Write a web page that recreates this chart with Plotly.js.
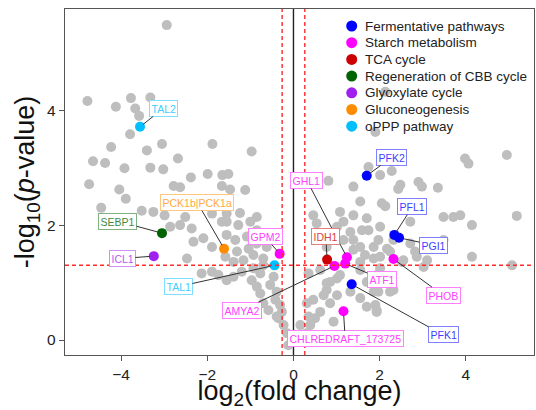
<!DOCTYPE html>
<html><head><meta charset="utf-8">
<script src="https://cdn.plot.ly/plotly-3.0.1.min.js"></script>
<style>html,body{margin:0;padding:0;background:#fff}#chart{width:536px;height:410px}</style>
</head><body><div id="chart"></div>
<script>
// Background (non-highlighted) proteins: log2 fold change, -log10 p
const grayX = [-2.94,-4.78,-3.77,-3.32,-4.12,-3.67,-3.58,-3.79,-4.23,-3.05,-1.88,-0.97,-3.40,-2.68,-4.65,-4.37,-3.92,-3.32,-3.02,-2.38,-1.99,-1.65,-4.74,-2.78,-2.63,-4.04,-3.89,-4.46,-3.52,-3.25,-2.99,-1.66,-1.89,-2.51,-1.51,-1.47,-1.12,-1.51,-1.55,-1.24,-0.85,
 2.13,1.90,0.81,1.39,1.55,1.39,1.74,2.01,2.28,2.48,2.43,2.90,2.98,3.35,3.98,4.06,4.95,5.18,1.08,1.70,2.05,1.74,2.01,2.71,3.48,3.87,4.14,3.48,1.39,1.55,1.86,2.17,2.32,1.86,2.86,3.10,2.13,3.71,1.97,2.71,2.82,2.55,4.14,5.07,2.01,1.97,2.24,1.90,1.93,
 -2.86,-2.63,-2.36,-2.32,-2.09,-1.89,-2.47,-2.13,-1.89,-1.74,-1.66,
 -1.55,-1.28,-1.00,-0.85,-1.55,-1.35,-1.08,-0.77,-1.58,-1.31,-1.04,-0.85,-0.62,-1.39,-1.16,-0.93,-0.70,-0.93,-0.70,-0.77,-0.46,-0.54,-0.39,-0.42,-0.31,-0.27,-0.35,-0.23,-0.15,-0.12,-1.55,-0.97,-0.85,-0.77,-0.70,-0.58,-0.39,-1.20,-1.39,
 0.35,0.62,0.85,0.77,1.01,0.85,0.62,0.50,0.39,0.31,0.27,0.93,1.32,1.55,1.70,1.93,1.70,1.55,1.08,0.46,0.54,1.01,1.16,1.32,1.59,1.16,0.77,1.39,1.66,2.01,2.24,1.55,2.52,0.31,0.46,0.77,1.01,1.82,1.86,1.93,2.32,3.02,0.16,0.35,0.70];
const grayY = [5.48,4.16,4.21,4.22,4.06,4.03,3.90,3.58,3.36,3.41,3.41,3.28,3.30,3.16,3.11,3.08,2.99,3.00,2.97,2.83,2.89,2.87,2.71,2.68,2.66,2.62,2.46,2.30,2.25,2.23,2.17,2.68,2.20,2.14,2.89,2.62,2.61,2.43,2.20,2.21,2.14,
 4.32,3.62,2.77,2.67,2.41,2.17,3.01,2.87,2.94,2.70,2.63,2.75,2.67,2.65,3.16,3.07,3.22,2.16,2.23,2.12,2.38,1.91,1.97,2.06,2.14,2.17,2.00,1.74,1.74,1.62,1.62,1.59,1.74,1.42,1.45,1.39,2.33,2.14,1.74,1.68,1.54,1.39,1.45,1.30,1.25,0.84,0.84,0.61,0.49,
 1.97,2.00,1.94,1.71,1.77,1.62,1.42,1.16,1.19,1.13,2.06,
 2.06,2.00,2.06,1.91,1.83,1.74,1.80,1.77,1.45,1.54,1.59,1.68,1.62,1.36,1.39,1.48,1.42,1.25,1.30,1.16,1.10,0.96,0.84,0.70,0.61,0.49,0.38,0.26,0.12,-0.09,1.04,1.04,0.93,0.81,0.64,0.52,0.41,1.19,1.10,
 1.16,1.22,1.01,0.87,0.78,0.64,0.49,0.38,0.26,0.12,-0.03,0.32,0.84,0.73,1.01,1.13,0.58,1.22,1.13,2.17,2.03,1.97,2.06,1.88,1.91,1.74,1.62,1.57,1.48,1.45,1.54,1.36,1.36,0.64,0.70,0.99,1.07,0.99,0.84,0.52,0.87,1.27,0.26,0.41,0.78];

// Highlighted pathways
const categories = ["Fermentative pathways","Starch metabolism","TCA cycle","Regeneration of CBB cycle","Glyoxylate cycle","Gluconeogenesis","oPPP pathway"];
const catColors = ["#0000FF","#FF00FF","#CC0000","#006400","#A020F0","#FF8C00","#00BFFF"];
const genes   = [["PFK2","PFL1","PGI1","PFK1"],
                 ["GHL1","ATF1","AMYA2","GPM2","PHOB","CHLREDRAFT_173725"],
                 ["IDH1"],["SEBP1"],["ICL1"],["PCK1b|PCK1a"],["TAL2","TAL1"]];
const geneX   = [[1.70,2.34,2.45,1.35],[1.24,1.20,0.95,-0.32,2.32,1.16],[0.78],[-3.05],[-3.24],[-1.61],[-3.56,-0.44]];
const geneY   = [[2.86,1.83,1.78,0.97],[1.44,1.33,1.29,1.50,1.41,0.50],[1.40],[1.86],[1.46],[1.59],[3.71,1.30]];
// label box centres (data coords)
const labelX  = [[2.28,2.76,3.25,3.47],[0.31,2.05,-1.20,-0.66,3.47,1.20],[0.75],[-4.08],[-3.97],[-2.23],[-3.02,-2.67]];
const labelY  = [[3.18,2.32,1.65,0.09],[2.78,1.06,0.52,1.80,0.78,0.02],[1.80],[2.07],[1.42],[2.39],[4.03,0.93]];

const fcThresh = 0.263, pThresh = 1.301;
const xTicks = [-4,-2,0,2,4], yTicks = [0,2,4];

function lighten(hex,f){const n=parseInt(hex.slice(1),16);let r=(n>>16)&255,g=(n>>8)&255,b=n&255;
  r=Math.round(r+(255-r)*f);g=Math.round(g+(255-g)*f);b=Math.round(b+(255-b)*f);return `rgb(${r},${g},${b})`;}

const font = 'Liberation Sans, Arial, sans-serif';
const traces = [{x:grayX,y:grayY,type:'scatter',mode:'markers',showlegend:false,hoverinfo:'skip',
  marker:{color:'#BEBEBE',size:10}}];
const annotations = [];
const shapes = [
  {type:'line',xref:'x',yref:'paper',x0:0,x1:0,y0:0,y1:1,line:{color:'#222',width:1.4},layer:'below'},
  {type:'line',xref:'x',yref:'paper',x0:-fcThresh,x1:-fcThresh,y0:0,y1:1,line:{color:'#FF2a2a',width:1.4,dash:'4px,3px'}},
  {type:'line',xref:'x',yref:'paper',x0:fcThresh,x1:fcThresh,y0:0,y1:1,line:{color:'#FF2a2a',width:1.4,dash:'4px,3px'}},
  {type:'line',xref:'paper',yref:'y',x0:0,x1:1,y0:pThresh,y1:pThresh,line:{color:'#FF2a2a',width:1.4,dash:'4px,3px'}}
];

// legend (drawn as marker shapes + text, to match item spacing)
const legX = 0.6113, legTextX = 0.6354, legY0 = (355-26)/346, legStep = 16.7/346;

categories.forEach((c,i)=>{
  traces.push({x:geneX[i],y:geneY[i],type:'scatter',mode:'markers',name:c,text:genes[i],showlegend:false,
    marker:{color:catColors[i],size:10}});
  genes[i].forEach((g,j)=>{
    annotations.push({x:geneX[i][j],y:geneY[i][j],xref:'x',yref:'y',axref:'x',ayref:'y',
      ax:labelX[i][j],ay:labelY[i][j],text:g,showarrow:true,arrowhead:0,arrowwidth:1,
      arrowcolor:'#333',standoff:4,bgcolor:'#fff',bordercolor:lighten(catColors[i],0.5),
      borderwidth:1,borderpad:1.5,font:{family:font,size:10.5,color:lighten(catColors[i],0.25)}});
  });
  const ly = legY0 - i*legStep;
  shapes.push({type:'circle',xref:'paper',yref:'paper',xsizemode:'pixel',ysizemode:'pixel',
    xanchor:legX,yanchor:ly,x0:-5.5,x1:5.5,y0:-5.5,y1:5.5,fillcolor:catColors[i],line:{width:0}});
  annotations.push({xref:'paper',yref:'paper',x:legTextX,y:ly,xanchor:'left',yanchor:'middle',
    text:c,showarrow:false,font:{family:font,size:13.5,color:'#222'}});
});

const layout = {
  width:536,height:410,margin:{l:65,r:2,t:9,b:55},
  paper_bgcolor:'#fff',plot_bgcolor:'#fff',
  font:{family:font,color:'#222'},
  xaxis:{range:[-5.30,5.58],tickvals:xTicks,ticks:'outside',ticklen:5,tickcolor:'#555',
    showline:true,mirror:true,linecolor:'#555',linewidth:1.3,showgrid:false,zeroline:false,
    tickfont:{size:15.5,color:'#222'},
    title:{text:'log<sub>2</sub>(fold change)',font:{size:27,color:'#111'},standoff:5}},
  yaxis:{range:[-0.26,5.76],tickvals:yTicks,ticks:'outside',ticklen:5,tickcolor:'#555',
    showline:true,mirror:true,linecolor:'#555',linewidth:1.3,showgrid:false,zeroline:false,
    tickfont:{size:15.5,color:'#222'},
    title:{text:'-log<sub>10</sub>(<i>p</i>-value)',font:{size:27,color:'#111'},standoff:4}},
  showlegend:false,
  shapes:shapes,annotations:annotations,hovermode:false
};
Plotly.newPlot('chart',traces,layout,{displayModeBar:false,staticPlot:true});
</script></body></html>
